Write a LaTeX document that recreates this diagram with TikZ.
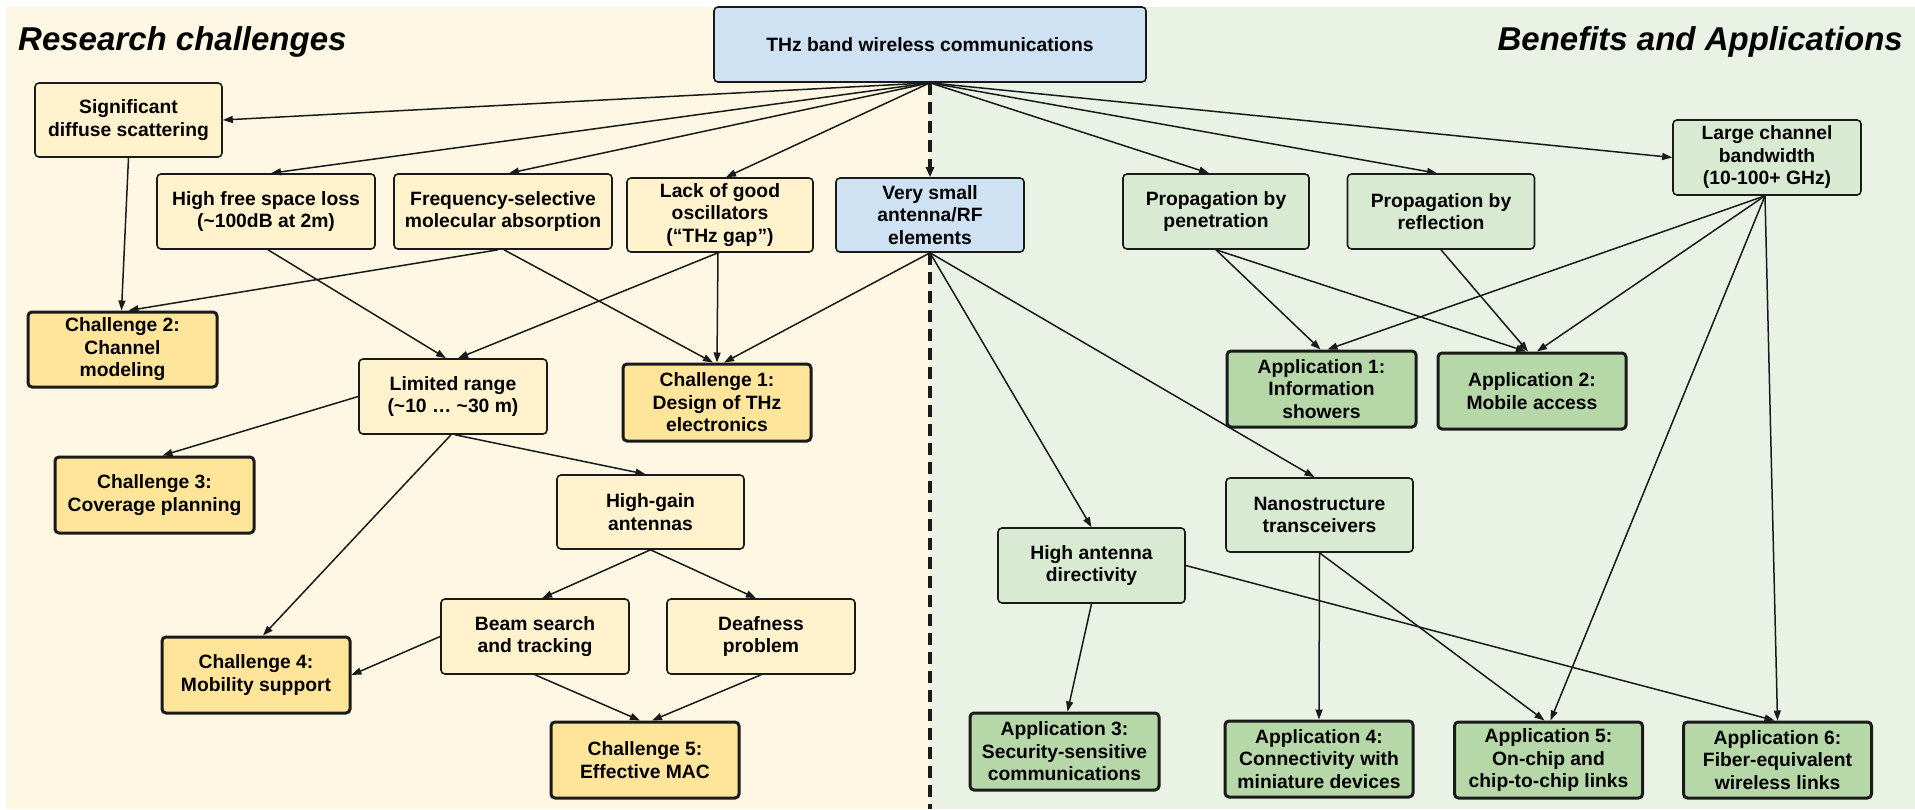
\documentclass[tikz,border=0pt]{standalone}
\usepackage{fontspec}
\setmainfont{Liberation Sans}
\usetikzlibrary{arrows.meta}
\definecolor{bgL}{HTML}{FEF7E3}
\definecolor{bgR}{HTML}{EAF2E6}
\definecolor{nodecream}{HTML}{FFF2CC}
\definecolor{chalfill}{HTML}{FFE599}
\definecolor{nodegreen}{HTML}{D9EAD3}
\definecolor{appfill}{HTML}{B6D7A8}
\definecolor{nodeblue}{HTML}{CFE2F3}
\definecolor{edge}{HTML}{1A1A1A}
\begin{document}
\begin{tikzpicture}[x=1pt,y=-1pt,
  font=\fontsize{19.3}{22.5}\selectfont\bfseries,
  box/.style={draw=edge, line width=1.6pt, rounded corners=4pt, minimum width=188pt, minimum height=75pt, align=center, inner sep=2pt},
  cream/.style={box, fill=nodecream},
  chal/.style={box, fill=chalfill, line width=3pt},
  lgreen/.style={box, fill=nodegreen},
  app/.style={box, fill=appfill, line width=3pt},
  bluebox/.style={box, fill=nodeblue},
  arr/.style={-{Triangle[length=10pt,width=7pt]}, line width=1.5pt, draw=edge},
  divider/.style={dash pattern=on 12pt off 7pt, line width=4.5pt, draw=edge},
  title/.style={font=\fontsize{33}{38}\selectfont\bfseries\itshape, inner sep=0pt}
]
\useasboundingbox (0,0) rectangle (1915,809);
\fill[white] (0,0) rectangle (1915,809);
\fill[bgL] (6,7) rectangle (930,809);
\fill[bgR] (930,7) rectangle (1915,809);

\node[title, anchor=base west] (t1) at (18,50) {Research challenges};
\node[title, anchor=base east] (t2) at (1903,50) {Benefits and Applications};

\node[bluebox, minimum width=432pt] (thz) at (930,44.5) {THz band wireless communications};
\node[cream, minimum width=187pt, minimum height=74pt] (sds) at (128.5,120) {Significant\\diffuse scattering};
\node[cream, minimum width=218pt] (hfsl) at (266,211.5) {High free space loss\\(\textasciitilde100dB at 2m)};
\node[cream, minimum width=218pt] (fsma) at (503,211.5) {Frequency-selective\\molecular absorption};
\node[cream, minimum width=186pt, minimum height=74pt] (lack) at (720,215) {Lack of good\\oscillators\\(“THz gap”)};
\node[bluebox, minimum height=74pt] (vsa) at (930,215) {Very small\\antenna/RF\\elements};
\node[lgreen, minimum width=186pt] (ppen) at (1216,211.5) {Propagation by\\penetration};
\node[lgreen, minimum width=187pt] (pref) at (1441,211.5) {Propagation by\\reflection};
\node[lgreen] (lcb) at (1767,157.5) {Large channel\\bandwidth\\(10-100+ GHz)};
\node[chal, minimum width=189pt] (ch2) at (122.5,349.5) {Challenge 2:\\Channel\\modeling};
\node[cream] (lr) at (453,396.5) {Limited range\\(\textasciitilde10 … \textasciitilde30 m)};
\node[chal, minimum height=77pt] (ch1) at (717,402.5) {Challenge 1:\\Design of THz\\electronics};
\node[cream, minimum width=187pt, minimum height=74pt] (hga) at (650.5,512) {High-gain\\antennas};
\node[chal, minimum width=199pt, minimum height=76pt] (ch3) at (154.5,495) {Challenge 3:\\Coverage planning};
\node[app, minimum width=189pt, minimum height=76pt] (app1) at (1321.5,389) {Application 1:\\Information\\showers};
\node[app, minimum height=76pt] (app2) at (1532,391) {Application 2:\\Mobile access};
\node[lgreen, minimum width=187pt, minimum height=74pt] (nano) at (1319.5,515) {Nanostructure\\transceivers};
\node[lgreen, minimum width=187pt] (hadir) at (1091.5,565.5) {High antenna\\directivity};
\node[cream] (beam) at (535,636.5) {Beam search\\and tracking};
\node[cream] (deaf) at (761,636.5) {Deafness\\problem};
\node[chal, minimum height=76pt] (ch4) at (256,675) {Challenge 4:\\Mobility support};
\node[chal, minimum height=76pt] (ch5) at (645,760) {Challenge 5:\\Effective MAC};
\node[app, minimum width=189pt, minimum height=77pt] (app3) at (1064.5,751.5) {Application 3:\\Security-sensitive\\communications};
\node[app, minimum height=76pt] (app4) at (1319,759) {Application 4:\\Connectivity with\\miniature devices};
\node[app, minimum height=76pt] (app5) at (1548.5,760) {Application 5:\\On-chip and\\chip-to-chip links};
\node[app, minimum height=76pt] (app6) at (1777.5,760) {Application 6:\\Fiber-equivalent\\wireless links};

\coordinate (bot) at (930,809);

% divider and dashed arrow
\draw[divider, -{Triangle[length=10pt,width=8pt]}] (thz.south) -- (vsa.north);
\draw[divider] (vsa.south) -- (bot);

% from THz
\draw[arr] (thz.south) -- (sds.east);
\draw[arr] (thz.south) -- ([xshift=5pt]hfsl.north);
\draw[arr] (thz.south) -- ([xshift=6pt]fsma.north);
\draw[arr] (thz.south) -- ([xshift=6pt]lack.north);
\draw[arr] (thz.south) -- ([xshift=-7pt]ppen.north);
\draw[arr] (thz.south) -- ([xshift=-4pt]pref.north);
\draw[arr] (thz.south) -- (lcb.west);

% research challenges side
\draw[arr] (sds.south) -- ([xshift=-1pt]ch2.north);
\draw[arr] ([xshift=-5pt]fsma.south) -- ([xshift=6pt]ch2.north);
\draw[arr] ([xshift=2pt]hfsl.south) -- ([xshift=-7pt]lr.north);
\draw[arr] ([xshift=-2pt]lack.south) -- ([xshift=5pt]lr.north);
\draw[arr] ([xshift=-2pt]lack.south) -- (ch1.north);
\draw[arr] ([xshift=1pt]fsma.south) -- ([xshift=-4pt]ch1.north);
\draw[arr] (vsa.south) -- ([xshift=7pt]ch1.north);
\draw[arr] (lr.west) -- ([xshift=8pt]ch3.north);
\draw[arr] ([xshift=-2pt]lr.south) -- ([xshift=7pt]ch4.north);
\draw[arr] ([xshift=2pt]lr.south) -- ([xshift=-5pt]hga.north);
\draw[arr] (hga.south) -- ([xshift=7pt]beam.north);
\draw[arr] (hga.south) -- ([xshift=-5pt]deaf.north);
\draw[arr] (beam.west) -- (ch4.east);
\draw[arr] (beam.south) -- ([xshift=-5pt]ch5.north);
\draw[arr] (deaf.south) -- ([xshift=7pt]ch5.north);

% benefits side
\draw[arr] (vsa.south) -- (hadir.north);
\draw[arr] (vsa.south) -- ([xshift=-5pt]nano.north);
\draw[arr] (ppen.south) -- ([xshift=-1pt]app1.north);
\draw[arr] (ppen.south) -- ([xshift=-6pt]app2.north);
\draw[arr] (pref.south) -- ([xshift=-4pt]app2.north);
\draw[arr] ([xshift=-2pt]lcb.south) -- ([xshift=6pt]app1.north);
\draw[arr] ([xshift=-2pt]lcb.south) -- ([xshift=5pt]app2.north);
\draw[arr] ([xshift=-2pt]lcb.south) -- ([xshift=2pt]app5.north);
\draw[arr] ([xshift=-2pt]lcb.south) -- (app6.north);
\draw[arr] (hadir.south) -- ([xshift=3pt]app3.north);
\draw[arr] (hadir.east) -- ([xshift=-3pt]app6.north);
\draw[arr] (nano.south) -- (app4.north);
\draw[arr] (nano.south) -- ([xshift=-4pt]app5.north);
\end{tikzpicture}
\end{document}
